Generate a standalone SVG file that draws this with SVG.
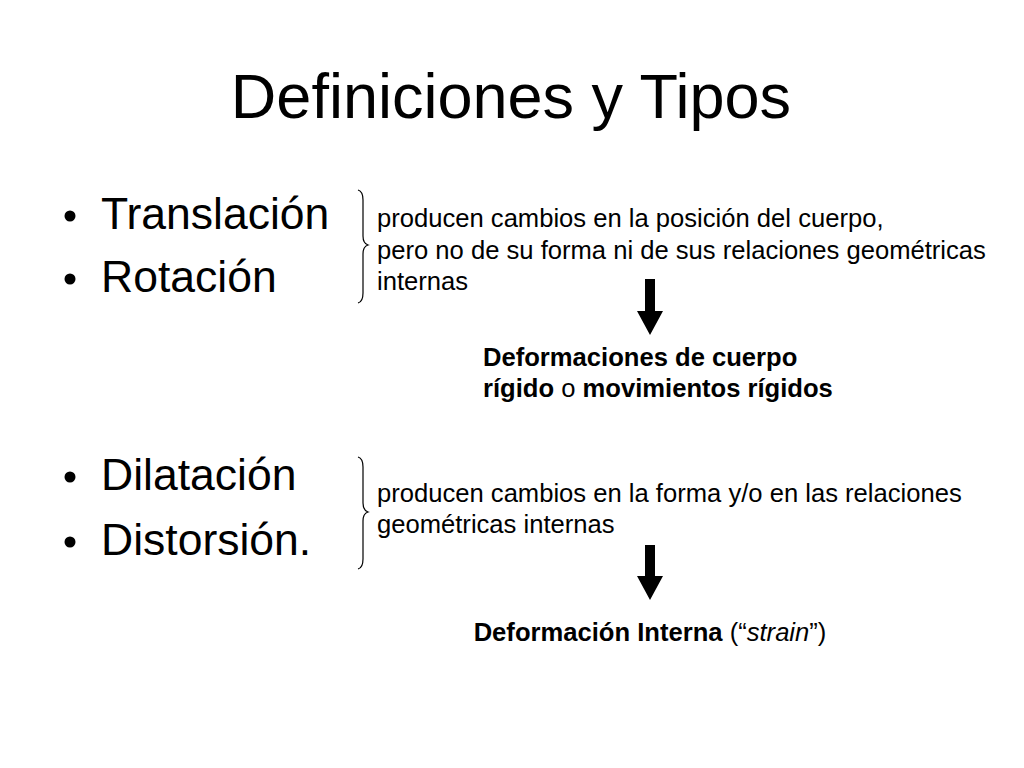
<svg xmlns="http://www.w3.org/2000/svg" width="1024" height="768" viewBox="0 0 1024 768">
<style>
text{font-family:"Liberation Sans",Arial,sans-serif;fill:#000}
.title{font-size:63px}
.bul{font-size:44.5px}
.s{font-size:25.6px}
.b{font-weight:bold}
.brace{fill:none;stroke:#000;stroke-width:1.2}
.arr{fill:#000}
</style>
<rect width="1024" height="768" fill="#fff"/>
<g id="title"><text class="title" x="511" y="118" text-anchor="middle">Definiciones y Tipos</text></g>
<g id="bullets1">
<circle cx="70" cy="216" r="5.5"/>
<text class="bul" x="101" y="229">Translación</text>
<circle cx="70" cy="279" r="5.5"/>
<text class="bul" x="101" y="292">Rotación</text>
</g>
<g id="bullets2">
<circle cx="70" cy="477" r="5.5"/>
<text class="bul" x="101" y="490">Dilatación</text>
<circle cx="70" cy="542" r="5.5"/>
<text class="bul" x="101" y="555">Distorsión.</text>
</g>
<g id="desc1">
<text class="s" x="377" y="227">producen cambios en la posición del cuerpo,</text>
<text class="s" x="377" y="259">pero no de su forma ni de sus relaciones geométricas</text>
<text class="s" x="377" y="290">internas</text>
</g>
<g id="result1">
<text class="s b" x="483" y="366">Deformaciones de cuerpo</text>
<text class="s" x="483" y="397"><tspan class="b">rígido</tspan> o <tspan class="b">movimientos rígidos</tspan></text>
</g>
<g id="desc2">
<text class="s" x="377" y="502">producen cambios en la forma y/o en las relaciones</text>
<text class="s" x="377" y="533">geométricas internas</text>
</g>
<g id="result2">
<text class="s" x="650" y="641" text-anchor="middle"><tspan class="b">Deformación Interna</tspan> (“<tspan font-style="italic">strain</tspan>”)</text>
</g>
<g id="connectors">
<path class="brace" d="M358,190 C362,191 363,194 363,200 L363,236 C363,241 365,244 368,245 C365,246 363,249 363,254 L363,293 C363,299 362,302 358,303"/>
<path class="brace" d="M358,457 C362,458 363,461 363,467 L363,503 C363,508 365,511 368,512 C365,513 363,516 363,521 L363,559 C363,565 362,568 358,569"/>
<path class="arr" d="M645,279 L655,279 L655,311 L663,311 L650,335 L637,311 L645,311 Z"/>
<path class="arr" d="M645,545 L655,545 L655,576 L663,576 L650,600 L637,576 L645,576 Z"/>
</g>
</svg>
